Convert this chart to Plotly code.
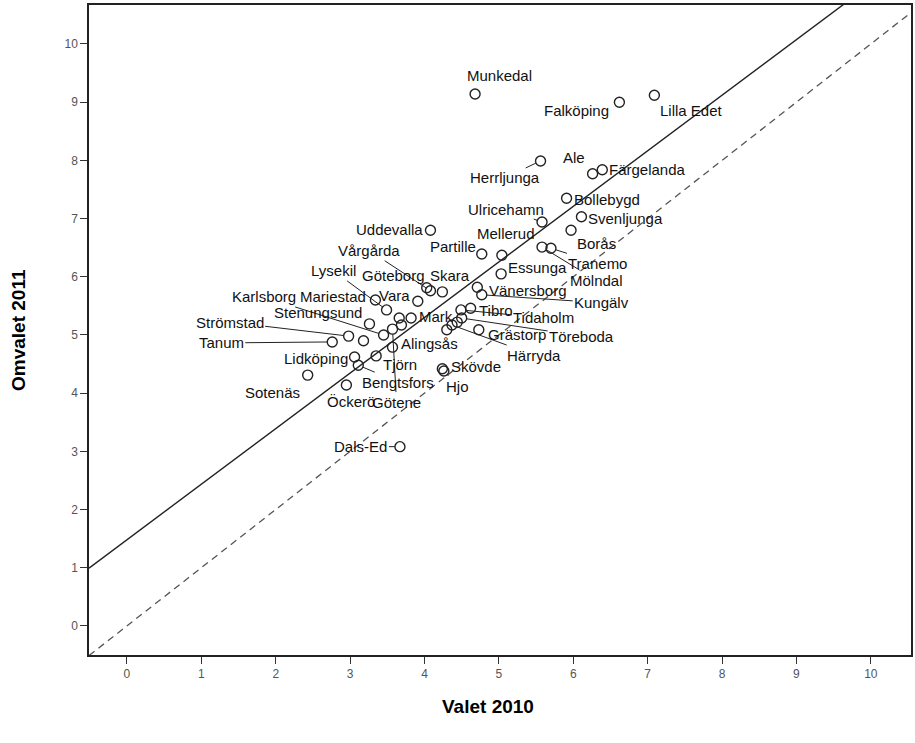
import plotly.graph_objects as go

# ---- data ----
kommuner = [
    "Munkedal", "Falköping", "Lilla Edet", "Herrljunga", "Ale", "Färgelanda",
    "Bollebygd", "Ulricehamn", "Svenljunga", "Borås", "Mölndal", "Tranemo",
    "Uddevalla", "Partille", "Mellerud", "Essunga", "Vänersborg", "Kungälv",
    "Vårgårda", "Göteborg", "Skara", "Vara", "Mariestad", "Lysekil",
    "Karlsborg", "Stenungsund", "Strömstad", "Tanum", "Mark", "Götene",
    "Alingsås", "Lidköping", "Tjörn", "Bengtsfors", "Öckerö", "Sotenäs",
    "Dals-Ed", "Skövde", "Hjo", "Tibro", "Tidaholm", "Töreboda", "Härryda",
    "Grästorp", "", "", "", "", "",
]
valet_2010 = [
    4.68, 6.62, 7.09, 5.56, 6.26, 6.39,
    5.91, 5.58, 6.11, 5.97, 5.58, 5.70,
    4.08, 4.77, 5.04, 5.03, 4.71, 4.77,
    4.08, 4.03, 4.24, 3.91, 3.34, 3.49,
    3.45, 3.26, 2.98, 2.76, 3.82, 3.57,
    3.57, 3.06, 3.35, 3.11, 2.95, 2.43,
    3.67, 4.24, 4.26, 4.62, 4.49, 4.50, 4.37,
    4.73, 3.18, 3.66, 3.69, 4.44, 4.30,
]
omvalet_2011 = [
    9.14, 9.00, 9.12, 7.99, 7.77, 7.84,
    7.35, 6.94, 7.03, 6.80, 6.51, 6.49,
    6.80, 6.39, 6.37, 6.05, 5.82, 5.69,
    5.76, 5.81, 5.74, 5.58, 5.60, 5.43,
    5.00, 5.19, 4.98, 4.88, 5.29, 5.10,
    4.79, 4.62, 4.64, 4.48, 4.14, 4.31,
    3.08, 4.42, 4.38, 5.46, 5.43, 5.29, 5.17,
    5.09, 4.90, 5.29, 5.17, 5.22, 5.09,
]
tick_values = [0, 1, 2, 3, 4, 5, 6, 7, 8, 9, 10]
fit_intercept = 1.48
fit_slope = 0.955

# ---- label placement (pixel offsets) ----
# mode "L": leader line, (dx, dy) = label centre offset, dy downwards
# mode "T": plain text, (anchor, xshift, yshift)
label_place = {
    "Munkedal": ("T", "center", 24, 19),
    "Falköping": ("T", "right", -8, -8),
    "Lilla Edet": ("T", "left", 4, -15),
    "Herrljunga": ("L", -36, 17),
    "Ale": ("T", "center", -19, 16),
    "Färgelanda": ("T", "left", 5, 0),
    "Bollebygd": ("T", "left", 5, -1),
    "Ulricehamn": ("L", -36, -13),
    "Svenljunga": ("T", "left", 5, -2),
    "Borås": ("T", "left", 4, -13),
    "Mölndal": ("L", 54, 33),
    "Tranemo": ("L", 47, 15),
    "Uddevalla": ("T", "right", -5, 1),
    "Partille": ("T", "right", -4, 8),
    "Mellerud": ("T", "center", 4, 22),
    "Essunga": ("T", "left", 5, 6),
    "Vänersborg": ("T", "left", 10, -3),
    "Kungälv": ("L", 120, 8),
    "Vårgårda": ("L", -61, -40),
    "Göteborg": ("T", "center", -33, 12),
    "Skara": ("T", "center", 8, 16),
    "Vara": ("T", "right", -6, 6),
    "Mariestad": ("T", "right", -7, 4),
    "Lysekil": ("L", -53, -39),
    "Karlsborg": ("L", -120, -38),
    "Stenungsund": ("T", "right", -5, 11),
    "Strömstad": ("L", -119, -14),
    "Tanum": ("L", -111, 1),
    "Mark": ("T", "left", 6, 2),
    "Götene": ("L", 4, 73),
    "Alingsås": ("T", "left", 6, 4),
    "Lidköping": ("T", "right", -5, -1),
    "Tjörn": ("T", "left", 5, -9),
    "Bengtsfors": ("L", 40, 17),
    "Öckerö": ("T", "center", 5, -17),
    "Sotenäs": ("T", "center", -35, -17),
    "Dals-Ed": ("L", -39, 0),
    "Skövde": ("T", "left", 7, 2),
    "Hjo": ("L", 14, 15),
    "Tibro": ("T", "left", 6, -2),
    "Tidaholm": ("L", 83, 8),
    "Töreboda": ("L", 120, 18),
    "Härryda": ("L", 82, 30),
    "Grästorp": ("T", "left", 7, -5),
}

X_RANGE = [-0.51, 10.54]
Y_RANGE = [-0.5, 10.67]
FONT_FAMILY = "Liberation Sans, Arial, sans-serif"
LABEL_FONT = dict(family=FONT_FAMILY, size=15, color="#111111")

fig = go.Figure()

# reference line y = x (dashed)
fig.add_trace(go.Scatter(
    x=X_RANGE, y=X_RANGE, mode="lines",
    line=dict(color="#555555", width=1.3, dash="7px,5px"),
    hoverinfo="skip", showlegend=False,
))
# fitted line (solid)
fit_x = [X_RANGE[0], X_RANGE[1]]
fit_y = [fit_intercept + fit_slope * v for v in fit_x]
fig.add_trace(go.Scatter(
    x=fit_x, y=fit_y, mode="lines",
    line=dict(color="#222222", width=1.4),
    hoverinfo="skip", showlegend=False,
))
# points
fig.add_trace(go.Scatter(
    x=valet_2010, y=omvalet_2011, mode="markers",
    marker=dict(symbol="circle-open", size=10, color="#222222", line=dict(width=1.4)),
    text=kommuner, showlegend=False,
))

annotations = []
for name, xv, yv in zip(kommuner, valet_2010, omvalet_2011):
    if not name or name not in label_place:
        continue
    p = label_place[name]
    if p[0] == "L":
        annotations.append(dict(
            x=xv, y=yv, xref="x", yref="y", text=name, showarrow=True,
            ax=p[1], ay=p[2], arrowhead=0, arrowwidth=1, arrowcolor="#222222",
            standoff=5, font=LABEL_FONT,
        ))
    else:
        annotations.append(dict(
            x=xv, y=yv, xref="x", yref="y", text=name, showarrow=False,
            xanchor=p[1], yanchor="middle", xshift=p[2], yshift=p[3],
            font=LABEL_FONT,
        ))

# axis titles
annotations.append(dict(
    x=0.5, y=0, xref="paper", yref="paper", yshift=-39, xshift=-12,
    text="<b>Valet 2010</b>", showarrow=False, yanchor="top",
    font=dict(family=FONT_FAMILY, size=19, color="black"),
))
annotations.append(dict(
    x=0, y=0.5, xref="paper", yref="paper", xshift=-71, xanchor="center",
    text="<b>Omvalet 2011</b>", showarrow=False, textangle=-90,
    font=dict(family=FONT_FAMILY, size=19, color="black"),
))

axis_common = dict(
    tickvals=tick_values, ticktext=[str(t) for t in tick_values],
    ticks="outside", ticklen=7, tickwidth=1.3, tickcolor="#333333",
    showline=True, linecolor="#222222", linewidth=1.5, mirror=True,
    showgrid=False, zeroline=False,
    tickfont=dict(family=FONT_FAMILY, size=12, color="#555555"),
)

fig.update_layout(
    width=915, height=743,
    margin=dict(l=89, r=2, t=5, b=88),
    paper_bgcolor="white", plot_bgcolor="white",
    xaxis=dict(range=X_RANGE, **axis_common),
    yaxis=dict(range=Y_RANGE, **axis_common),
    annotations=annotations,
)

fig.write_html(
    "out.html",
    config={"displayModeBar": False},
    post_script="document.body.style.margin='0px';",
)
